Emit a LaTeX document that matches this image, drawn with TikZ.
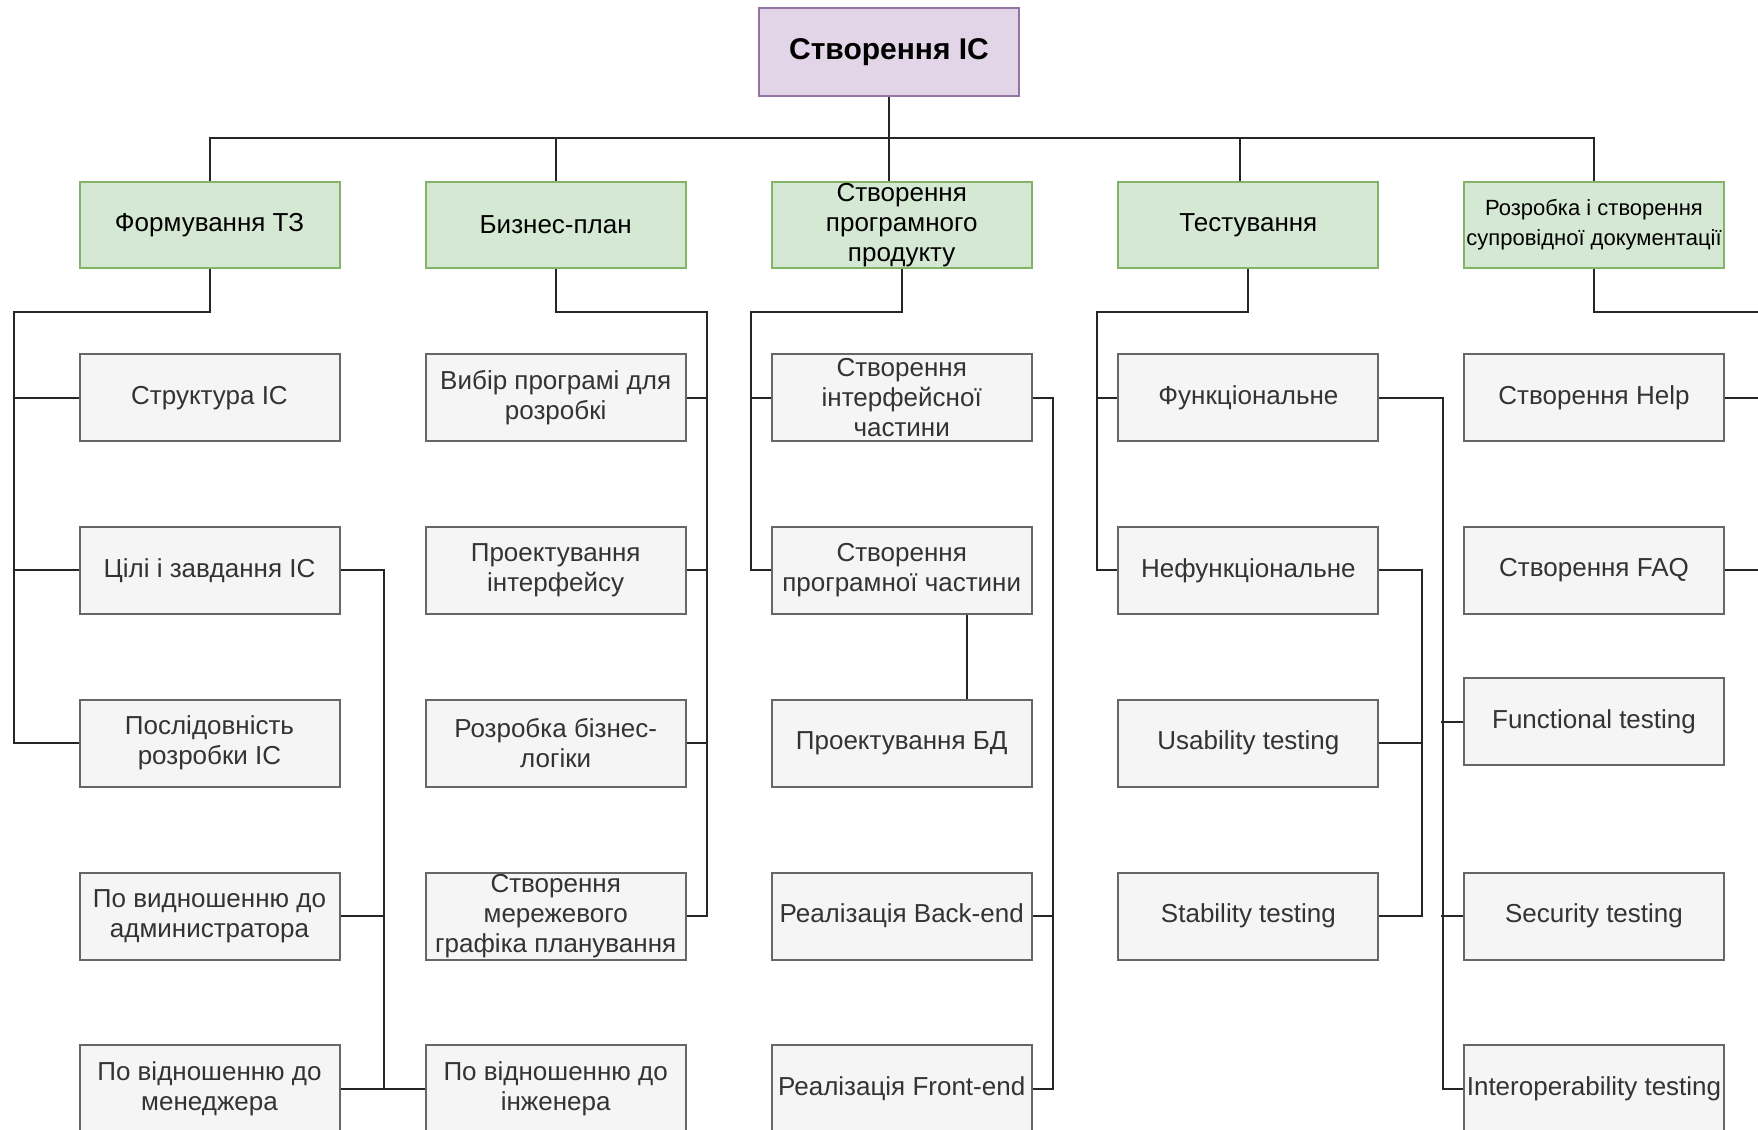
\documentclass[tikz,border=0pt]{standalone}
\usepackage{fontspec}
\setmainfont{Liberation Sans}
\definecolor{rootfill}{HTML}{E1D5E7}
\definecolor{rootline}{HTML}{9673A6}
\definecolor{phasefill}{HTML}{D5E8D4}
\definecolor{phaseline}{HTML}{82B366}
\definecolor{taskfill}{HTML}{F5F5F5}
\definecolor{taskline}{HTML}{666666}
\definecolor{tasktext}{HTML}{333333}
\begin{document}
\begin{tikzpicture}[x=0.5pt, y=-0.5pt, root/.style={draw=rootline, fill=rootfill, line width=1pt, minimum width=130pt, minimum height=44pt, inner sep=0pt, align=center, font=\bfseries\fontsize{15}{17}\selectfont}, phase/.style={draw=phaseline, fill=phasefill, line width=1pt, minimum width=130pt, minimum height=43.3pt, inner sep=0pt, align=center, font=\fontsize{13}{15}\selectfont}, task/.style={draw=taskline, fill=taskfill, text=tasktext, line width=1pt, minimum width=130pt, minimum height=43.5pt, inner sep=0pt, align=center, font=\fontsize{13}{15}\selectfont}, link/.style={line width=1pt, black!85}]
\useasboundingbox (0,0) rectangle (1758,1130);
\clip (0,0) rectangle (1758,1130);
\node[root] (r) at (889,52) {Створення ІС};
\node[phase] (p1) at (209.5,225) {Формування ТЗ};
\node[phase] (p2) at (555.7,225) {Бизнес-план};
\node[phase] (p3) at (901.7,225) {Створення\\програмного\\продукту};
\node[phase] (p4) at (1248.4,225) {Тестування};
\node[phase, font=\fontsize{11}{15}\selectfont] (p5) at (1594,225) {Розробка і створення\\супровідної документації};
\node[task] (t11) at (209.5,397.7) {Структура ІС};
\node[task] (t12) at (209.5,570.3) {Цілі і завдання ІС};
\node[task] (t13) at (209.5,743) {Послідовність\\розробки ІС};
\node[task] (t14) at (209.5,916) {По видношенню до\\администратора};
\node[task] (t15) at (209.5,1088.5) {По відношенню до\\менеджера};
\node[task] (t21) at (555.7,397.7) {Вибір програмі для\\розробкі};
\node[task] (t22) at (555.7,570.3) {Проектування\\інтерфейсу};
\node[task] (t23) at (555.7,743) {Розробка бізнес-\\логіки};
\node[task] (t24) at (555.7,916) {Створення\\мережевого\\графіка планування};
\node[task] (t25) at (555.7,1088.5) {По відношенню до\\інженера};
\node[task] (t31) at (901.7,397.7) {Створення\\інтерфейсної\\частини};
\node[task] (t32) at (901.7,570.3) {Створення\\програмної частини};
\node[task] (t33) at (901.7,743) {Проектування БД};
\node[task] (t34) at (901.7,916) {Реалізація Back-end};
\node[task] (t35) at (901.7,1088.5) {Реалізація Front-end};
\node[task] (t41) at (1248.4,397.7) {Функціональне};
\node[task] (t42) at (1248.4,570.3) {Нефункціональне};
\node[task] (t43) at (1248.4,743) {Usability testing};
\node[task] (t44) at (1248.4,916) {Stability testing};
\node[task] (t51) at (1594,397.7) {Створення Help};
\node[task] (t52) at (1594,570.3) {Створення FAQ};
\node[task] (t53) at (1594,721.5) {Functional testing};
\node[task] (t54) at (1594,916) {Security testing};
\node[task] (t55) at (1594,1088.5) {Interoperability testing};
\coordinate (bus) at (889,137.7);
\coordinate (b1) at (14.4,311.7);
\coordinate (b2) at (707.2,311.7);
\coordinate (b3) at (750.9,311.7);
\coordinate (b4) at (1096.7,311.7);
\coordinate (b5) at (1790,311.7);
\draw[link] (p1.north) |- (p5.north |- bus) -- (p5.north);
\draw[link] (r.south) -- (r.south |- p3.north);
\draw[link] (p2.north) -- (p2.north |- bus);
\draw[link] ([xshift=-4.35pt]p4.north) -- ([xshift=-4.35pt]p4.north |- bus);
\draw[link] (p1.south) |- (b1) |- (t13.west);
\draw[link] (t11.west) -- (t11.west -| b1);
\draw[link] (t12.west) -- (t12.west -| b1);
\draw[link] (t12.east) -- ++(21.6pt,0) |- (t15.east);
\draw[link] (t14.east) -- ++(21.6pt,0);
\draw[link] (t15.east) -- (t25.west);
\draw[link] (p2.south) |- (b2) |- (t24.east);
\draw[link] (t21.east) -- (t21.east -| b2);
\draw[link] (t22.east) -- (t22.east -| b2);
\draw[link] (t23.east) -- (t23.east -| b2);
\draw[link] (p3.south) |- (b3) |- (t32.west);
\draw[link] (t31.west) -- (t31.west -| b3);
\draw[link] ([xshift=32.6pt]t32.south) -- ([xshift=32.6pt]t33.north);
\draw[link] (t31.east) -- ++(10.2pt,0) |- (t35.east);
\draw[link] (t34.east) -- ++(10.2pt,0);
\draw[link] (p4.south) |- (b4) |- (t42.west);
\draw[link] (t41.west) -- (t41.west -| b4);
\draw[link] (t41.east) -- ++(31.85pt,0) |- (t55.west);
\draw[link] (t53.west) -- ++(-10.8pt,0);
\draw[link] (t54.west) -- ++(-10.8pt,0);
\draw[link] (t42.east) -- ++(21.4pt,0) |- (t44.east);
\draw[link] (t43.east) -- ++(21.4pt,0);
\draw[link] (p5.south) |- (b5) |- (t52.east);
\draw[link] (t51.east) -- (t51.east -| b5);
\end{tikzpicture}
\end{document}
